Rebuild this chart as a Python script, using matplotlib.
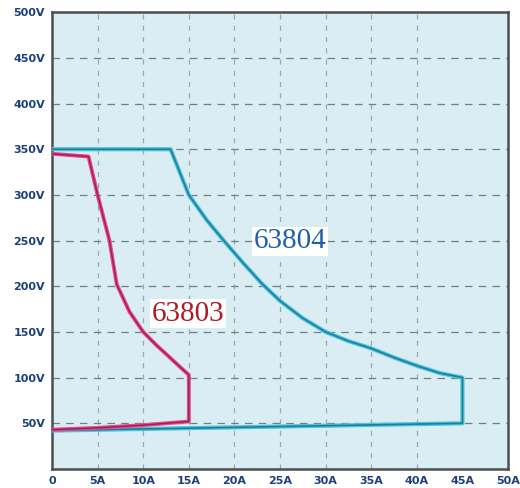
import matplotlib.pyplot as plt
import matplotlib.patheffects as pe

# curva del 63804 (A, V)
i_63804 = [0, 13.0, 15.0, 17.0, 19.0, 21.0, 23.0, 25.0, 27.5, 30.0, 32.5, 35.0, 37.5, 40.0, 42.5, 45.0, 45.0, 0]
v_63804 = [350, 350, 300, 272, 248, 225, 203, 184, 165, 150, 140, 132, 122, 113, 105, 100, 50, 42]

# curva del 63803
i_63803 = [0, 4.0, 5.0, 6.3, 7.1, 8.5, 10.0, 11.5, 12.6, 14.0, 15.0, 15.0, 10.0, 5.0, 0]
v_63803 = [345, 342, 300, 250, 202, 172, 150, 135, 125, 112, 103, 52, 48, 45, 43]

xticks = [0, 5, 10, 15, 20, 25, 30, 35, 40, 45, 50]
xlabels = ["0", "5A", "10A", "15A", "20A", "25A", "30A", "35A", "40A", "45A", "50A"]
yticks = [50, 100, 150, 200, 250, 300, 350, 400, 450, 500]
ylabels = [f"{v}V" for v in yticks]

fig = plt.figure(figsize=(5.2, 4.88), dpi=100)
ax = fig.add_axes([0.1, 0.039, 0.877, 0.936])
ax.set_facecolor("#d9edf2")

ax.set_xlim(0, 50)
ax.set_ylim(0, 500)

# rejilla punteada
for x in xticks[1:-2]:
    ax.axvline(x, color="#98a8ae", ls=(0, (4, 5)), lw=0.9, zorder=1)
for y in yticks[:-1]:
    ax.axhline(y, color="#6f7f85", ls=(0, (6, 5)), lw=0.9, zorder=1)

ax.plot(i_63804, v_63804, color="#1f7f96", lw=1.2, zorder=3,
        path_effects=[pe.Stroke(linewidth=3.0, foreground="#4cc4e0"), pe.Normal()])
ax.plot(i_63803, v_63803, color="#9a1f55", lw=1.0, zorder=4,
        path_effects=[pe.Stroke(linewidth=2.8, foreground="#e8488e"), pe.Normal()])

ax.text(14.9, 170, "63803", color="#b01822", fontsize=21, family="Liberation Serif",
        ha="center", va="center", zorder=5,
        bbox=dict(facecolor="white", edgecolor="none", pad=1.0))
ax.text(26.1, 249, "63804", color="#1f5fa8", fontsize=21, family="Liberation Serif",
        ha="center", va="center", zorder=5,
        bbox=dict(facecolor="white", edgecolor="none", pad=1.0))

ax.set_xticks(xticks)
ax.set_xticklabels(xlabels)
ax.set_yticks(yticks)
ax.set_yticklabels(ylabels)
ax.tick_params(length=0, labelsize=8, labelcolor="#1d3f7a", pad=5)
for lab in ax.get_xticklabels() + ax.get_yticklabels():
    lab.set_fontweight("bold")

for s in ax.spines.values():
    s.set_color("#4a4f52")
    s.set_linewidth(1.8)

fig.savefig("out.png", dpi=100)
